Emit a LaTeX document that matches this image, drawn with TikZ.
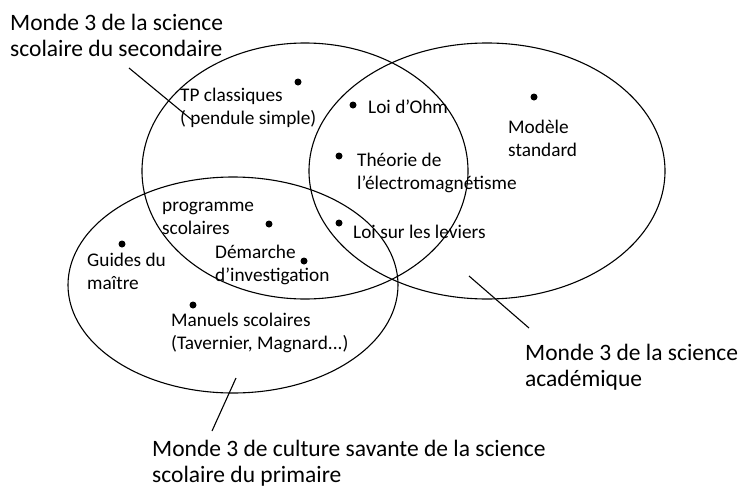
\documentclass[tikz,border=0pt]{standalone}
\usepackage{fontspec}
\setmainfont{Carlito}
\usepackage{tikz}

\begin{document}
\begin{tikzpicture}[x=1pt, y=-1pt,
    dot/.style={circle, fill=black, inner sep=0pt, minimum size=7pt},
    item/.style={anchor=west, align=left, inner sep=0pt, font=\fontsize{19.3}{23}\selectfont},
    title/.style={anchor=west, align=left, inner sep=0pt, font=\fontsize{23.5}{26}\selectfont}]
    \useasboundingbox (0,0) rectangle (740,488);

    % 1. les trois mondes
    \draw[line width=1.1pt] (305,171) ellipse [x radius=163pt, y radius=128pt];
    \draw[line width=1.1pt] (487,171) ellipse [x radius=178pt, y radius=128pt];
    \draw[line width=1.1pt] (233,285) ellipse [x radius=165pt, y radius=108pt];

    % 2. les points
    \node[dot] (dTP) at (298,82) {};
    \node[dot] (dOhm) at (353,105) {};
    \node[dot] (dTheo) at (339,156) {};
    \node[dot] (dLev) at (339,223) {};
    \node[dot] (dMod) at (534,97) {};
    \node[dot] (dProg) at (269,224) {};
    \node[dot] (dDem) at (304,261) {};
    \node[dot] (dGuide) at (122,244) {};
    \node[dot] (dMan) at (193,305) {};

    % 3. les textes des points
    \node[item] (tTP) at (180,108) {TP classiques\\( pendule simple)};
    \node[item] (tOhm) at (368,107) {Loi d’Ohm};
    \node[item] (tTheo) at (357,173) {Théorie de\\l’électromagnétisme};
    \node[item] (tLev) at (353,232) {Loi sur les leviers};
    \node[item] (tMod) at (508,138) {Modèle\\standard};
    \node[item] (tProg) at (162,218) {programme\\scolaires};
    \node[item] (tDem) at (215,265) {Démarche\\d’investigation};
    \node[item] (tGuide) at (87,271) {Guides du\\maître};
    \node[item] (tMan) at (171,333) {Manuels scolaires\\(Tavernier, Magnard...)};

    % 4. les titres et leurs traits
    \node[title] (lSec) at (10,35) {Monde 3 de la science\\scolaire du secondaire};
    \node[title] (lAca) at (525,367) {Monde 3 de la science\\académique};
    \node[title] (lPri) at (152,463) {Monde 3 de culture savante de la science\\scolaire du primaire};

    \coordinate (sSec) at (129,68);
    \coordinate (eSec) at (192,120);
    \coordinate (sAca) at (469,276);
    \coordinate (eAca) at (529,328);
    \coordinate (sPri) at (236,378);
    \coordinate (ePri) at (212,431);
    \draw[line width=1.1pt] (sSec) -- (eSec);
    \draw[line width=1.1pt] (sAca) -- (eAca);
    \draw[line width=1.1pt] (sPri) -- (ePri);
\end{tikzpicture}
\end{document}
